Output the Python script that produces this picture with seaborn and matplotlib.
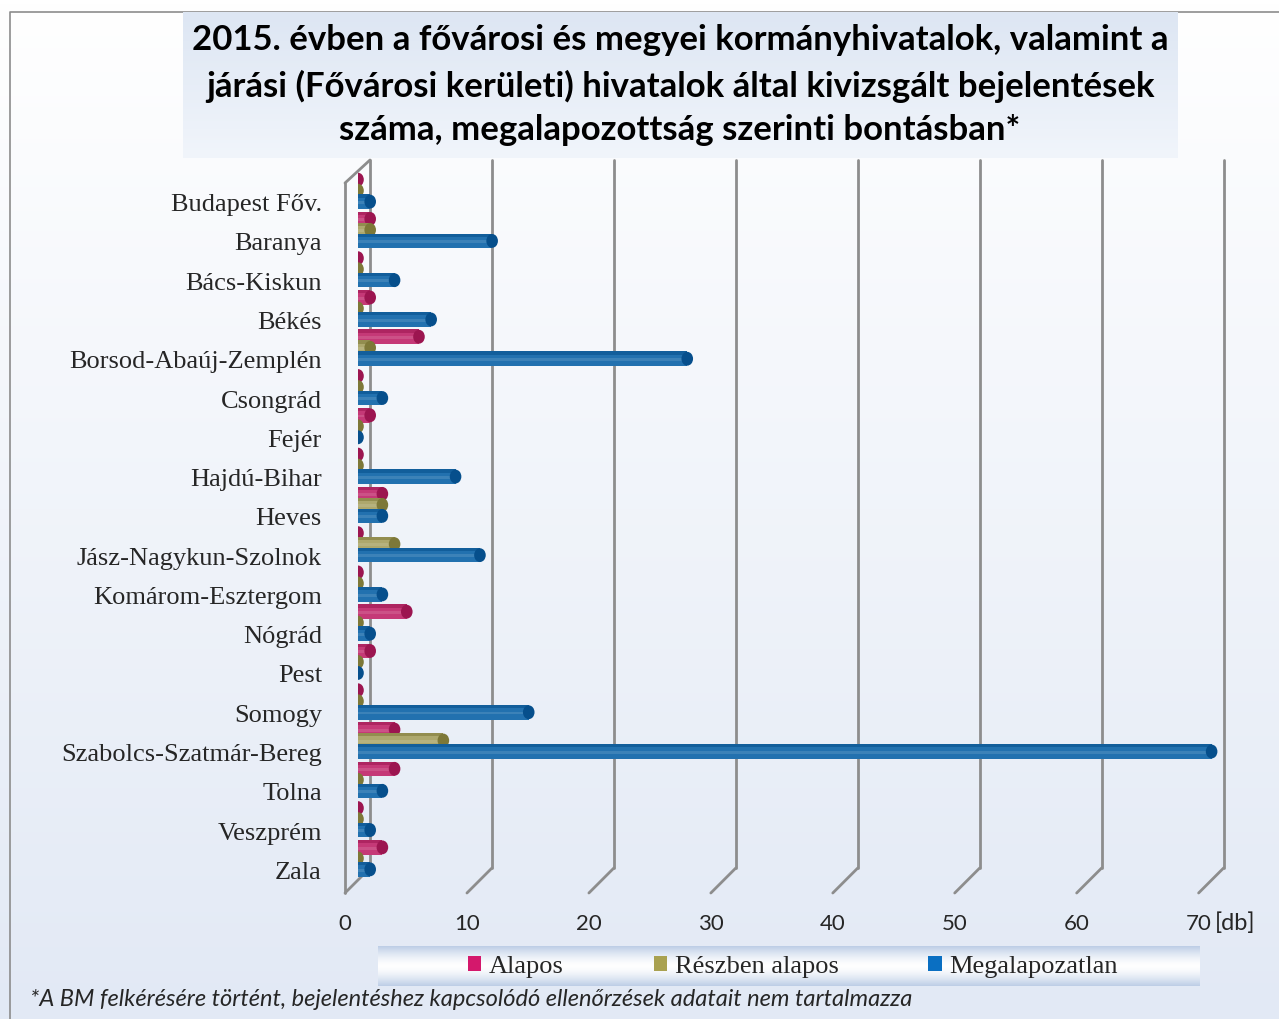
import numpy as np
import pandas as pd
import matplotlib
matplotlib.use("Agg")
import matplotlib.pyplot as plt
import seaborn as sns
from matplotlib.patches import Rectangle, Ellipse, Patch
from matplotlib.lines import Line2D
from matplotlib.colors import to_rgb
import matplotlib.transforms as mtransforms

# ---------------- data ----------------
counties = ["Budapest Főv.", "Baranya", "Bács-Kiskun", "Békés", "Borsod-Abaúj-Zemplén",
            "Csongrád", "Fejér", "Hajdú-Bihar", "Heves", "Jász-Nagykun-Szolnok",
            "Komárom-Esztergom", "Nógrád", "Pest", "Somogy", "Szabolcs-Szatmár-Bereg",
            "Tolna", "Veszprém", "Zala"]
alapos = [0, 1, 0, 1, 5, 0, 1, 0, 2, 0, 0, 4, 1, 0, 3, 3, 0, 2]
reszben = [0, 1, 0, 0, 1, 0, 0, 0, 2, 3, 0, 0, 0, 0, 7, 0, 0, 0]
megalap = [1, 11, 3, 6, 27, 2, 0, 8, 2, 10, 2, 1, 0, 14, 70, 2, 1, 1]
series = ["Alapos", "Részben alapos", "Megalapozatlan"]
xticks = [0, 10, 20, 30, 40, 50, 60, 70]
title_lines = ["2015. évben a fővárosi és megyei kormányhivatalok, valamint a",
               "járási (Fővárosi kerületi) hivatalok által kivizsgált bejelentések",
               "száma, megalapozottság szerinti bontásban*"]
footnote = "*A BM felkérésére történt, bejelentéshez kapcsolódó ellenőrzések adatait nem tartalmazza"
unit = "[db]"

colors = ["#dc2274", "#b8b162", "#0b74c6"]
dark = ["#9c1550", "#7d7838", "#064f8c"]

df = pd.DataFrame({"megye": counties * 3,
                   "tipus": sum([[s] * len(counties) for s in series], []),
                   "db": alapos + reszben + megalap})

W, H = 1279, 1019
sns.set_theme(style="white")
fig = plt.figure(figsize=(W / 100, H / 100), dpi=100)

# background gradient
bg = fig.add_axes([0, 0, 1, 1], zorder=-10)
grad = np.linspace(0, 1, 256).reshape(-1, 1)
c_top, c_bot = np.array(to_rgb("#ffffff")), np.array(to_rgb("#e2e9f5"))
img = c_top[None, None, :] * (1 - grad[:, :, None]) + c_bot[None, None, :] * grad[:, :, None]
bg.imshow(img, aspect="auto", extent=[0, 1, 0, 1], origin="upper")
bg.set_xlim(0, 1); bg.set_ylim(0, 1); bg.axis("off")

# outer frame
bg.add_line(Line2D([10 / W, 10 / W, 1.0], [0, 1 - 12 / H, 1 - 12 / H], color="#8c8c8c", lw=1.2,
                   transform=bg.transAxes))

# title box
tb = fig.add_axes([183 / W, 1 - 158 / H, (1178 - 183) / W, 146 / H], zorder=-5)
g2 = np.linspace(0, 1, 256).reshape(-1, 1)
ct, cb = np.array(to_rgb("#dde6f3")), np.array(to_rgb("#f1f5fb"))
tb.imshow(ct[None, None, :] * (1 - g2[:, :, None]) + cb[None, None, :] * g2[:, :, None],
          aspect="auto", extent=[0, 1, 0, 1])
tb.axis("off")
for yy, line in zip([40, 86, 130], title_lines):
    fig.text(680 / W, 1 - yy / H, line, ha="center", va="center", fontsize=25,
             fontweight="bold", family="Lato", color="black")

# legend box
lb = fig.add_axes([378 / W, 1 - 986 / H, (1200 - 378) / W, 40 / H], zorder=-5)
g3 = np.abs(np.linspace(-1, 1, 256)).reshape(-1, 1) ** 1.5
ce, cm = np.array(to_rgb("#bccde6")), np.array(to_rgb("#ffffff"))
lb.imshow(cm[None, None, :] * (1 - g3[:, :, None]) + ce[None, None, :] * g3[:, :, None],
          aspect="auto", extent=[0, 1, 0, 1])
lb.axis("off")

# main axes
ax = fig.add_axes([358 / W, 1 - 878 / H, 878 / W, 707 / H])
ax.patch.set_alpha(0)
sns.barplot(data=df, y="megye", x="db", hue="tipus", orient="h", palette=colors,
            hue_order=series, order=counties, width=0.84, ax=ax, legend=False,
            edgecolor="none", linewidth=0, zorder=3)
ax.set_xlim(0, 72)
ax.set_ylim(len(counties) - 0.5, -0.5)
ax.set_xticks(xticks)
ax.set_xlabel(""); ax.set_ylabel("")
for s in ax.spines.values():
    s.set_visible(False)
ax.tick_params(axis="both", length=0)
ax.set_xticklabels([str(t) for t in xticks], fontsize=16, family="Lato")
ax.tick_params(axis="x", pad=26)
ax.set_yticks(range(len(counties)))
ax.set_yticklabels(counties, fontsize=19, family="Liberation Serif")
ax.tick_params(axis="y", pad=26)
off_y = mtransforms.ScaledTranslation(0, -12 / 100, fig.dpi_scale_trans)
for lab in ax.get_yticklabels():
    lab.set_transform(lab.get_transform() + off_y)
off_x = mtransforms.ScaledTranslation(-13 / 100, 0, fig.dpi_scale_trans)
for lab in ax.get_xticklabels():
    lab.set_transform(lab.get_transform() + off_x)

# 3D-like styling of the library-drawn bars (thicker, overlapping cylinders)
patches = list(ax.patches)
nC = len(counties)
for i, p in enumerate(patches):
    k = i // nC
    x0, w = p.get_x(), p.get_width()
    cy = p.get_y() + p.get_height() / 2
    h = 0.37
    p.set_y(cy - h / 2); p.set_height(h)
    p.set_zorder(3 + k)
    y0 = cy - h / 2
    ax.add_patch(Rectangle((x0, y0), w, h * 0.22, facecolor=dark[k], edgecolor="none",
                           alpha=0.55, zorder=3 + k))
    ax.add_patch(Rectangle((x0, y0 + h * 0.45), w, h * 0.2, facecolor="white", edgecolor="none",
                           alpha=0.12, zorder=3 + k))
    ax.add_patch(Ellipse((x0 + w, cy), 0.95, h * 0.95, angle=0, facecolor=dark[k],
                         edgecolor="none", zorder=3 + k))

# 3D walls / gridlines (drawn in pixel space from the axis scale)
fig.canvas.draw()
def xpix(v):
    return ax.transData.transform((v, 0))[0]
gl = dict(color="#8d8d8d", lw=2.0, transform=bg.transAxes, zorder=1)
for t in xticks:
    xb = xpix(t) + 12
    xf = xpix(t) - 13
    bg.add_line(Line2D([xb / W, xb / W], [1 - 160 / H, 1 - 868 / H], **gl))
    bg.add_line(Line2D([xb / W, xf / W], [1 - 868 / H, 1 - 893 / H], **gl))
bg.add_line(Line2D([345 / W, 345 / W], [1 - 183 / H, 1 - 893 / H], **gl))
bg.add_line(Line2D([345 / W, 370 / W], [1 - 183 / H, 1 - 160 / H], **gl))
bg.set_zorder(-10)

fig.text((xpix(70) + 3) / W, 1 - 923 / H, unit, ha="left", va="center", fontsize=17,
         family="Lato")

# legend
handles = [Patch(facecolor=c, edgecolor="none") for c in ["#d4186c", "#a9a150", "#0a6fc2"]]
leg = fig.legend(handles, series, loc="center", bbox_to_anchor=(793 / W, 1 - 967 / H),
                 ncol=3, frameon=False, prop={"family": "Liberation Serif", "size": 19},
                 handlelength=0.5, handleheight=0.5, handletextpad=0.3, columnspacing=3.4)

fig.text(30 / W, 1 - 1000 / H, footnote, ha="left", va="center", fontsize=17,
         family="Lato", style="italic")

fig.savefig("out.png", dpi=100)
